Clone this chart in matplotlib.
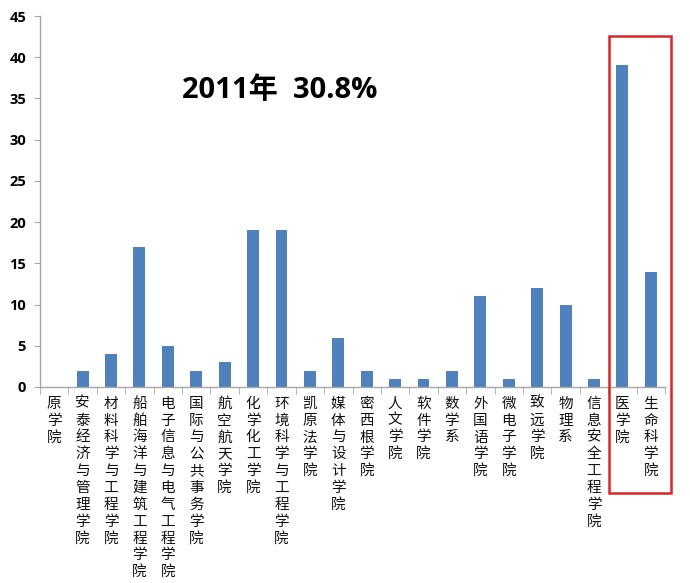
import matplotlib
matplotlib.use("Agg")
import matplotlib.pyplot as plt
from matplotlib.patches import Rectangle

plt.rcParams['font.family'] = ['Noto Sans CJK SC', 'DejaVu Sans']

categories = ["原学院", "安泰经济与管理学院", "材料科学与工程学院", "船舶海洋与建筑工程学院",
              "电子信息与电气工程学院", "国际与公共事务学院", "航空航天学院", "化学化工学院",
              "环境科学与工程学院", "凯原法学院", "媒体与设计学院", "密西根学院", "人文学院",
              "软件学院", "数学系", "外国语学院", "微电子学院", "致远学院", "物理系",
              "信息安全工程学院", "医学院", "生命科学院"]
values = [0, 2, 4, 17, 5, 2, 3, 19, 19, 2, 6, 2, 1, 1, 2, 11, 1, 12, 10, 1, 39, 14]
yticks = [0, 5, 10, 15, 20, 25, 30, 35, 40, 45]
title_text = "2011年  30.8%"

fig = plt.figure(figsize=(6.9, 5.83), dpi=100)
ax = fig.add_axes([40/690, 1-387/583, 625/690, 371/583])
x = list(range(len(categories)))
ax.bar(x, values, width=0.42, color="#4F81BD", zorder=2)
ax.set_xlim(-0.5, len(categories)-0.5)
ax.set_ylim(0, 45)
ax.set_yticks(yticks)
ax.set_yticklabels([str(t) for t in yticks], fontfamily=['Open Sans', 'DejaVu Sans'],
                   fontweight='bold', fontsize=10.5)
ax.tick_params(axis='y', length=4, color='#A6A6A6', pad=6)

ax.set_xticks(x)
ax.set_xticklabels(["\n".join(c) for c in categories], fontsize=10.5, linespacing=1.26,
                   va='top', color='#111111')
ax.tick_params(axis='x', length=0, pad=7)
ax.set_xticks([i - 0.5 for i in range(len(categories)+1)], minor=True)
ax.tick_params(axis='x', which='minor', length=5, color='#A6A6A6')

for s in ['top', 'right']:
    ax.spines[s].set_visible(False)
for s in ['left', 'bottom']:
    ax.spines[s].set_color('#A6A6A6')
    ax.spines[s].set_linewidth(1)

ax.text(7.95, 36.0, title_text, fontsize=21, fontweight='bold', ha='center', va='center',
        family=['Open Sans', 'Noto Sans CJK SC'])

rect = Rectangle((19.53, -12.9), 2.18, 55.5, fill=False, edgecolor='#D9262A',
                 linewidth=1.8, clip_on=False, zorder=5)
ax.add_patch(rect)

fig.savefig("out.png", dpi=100)
